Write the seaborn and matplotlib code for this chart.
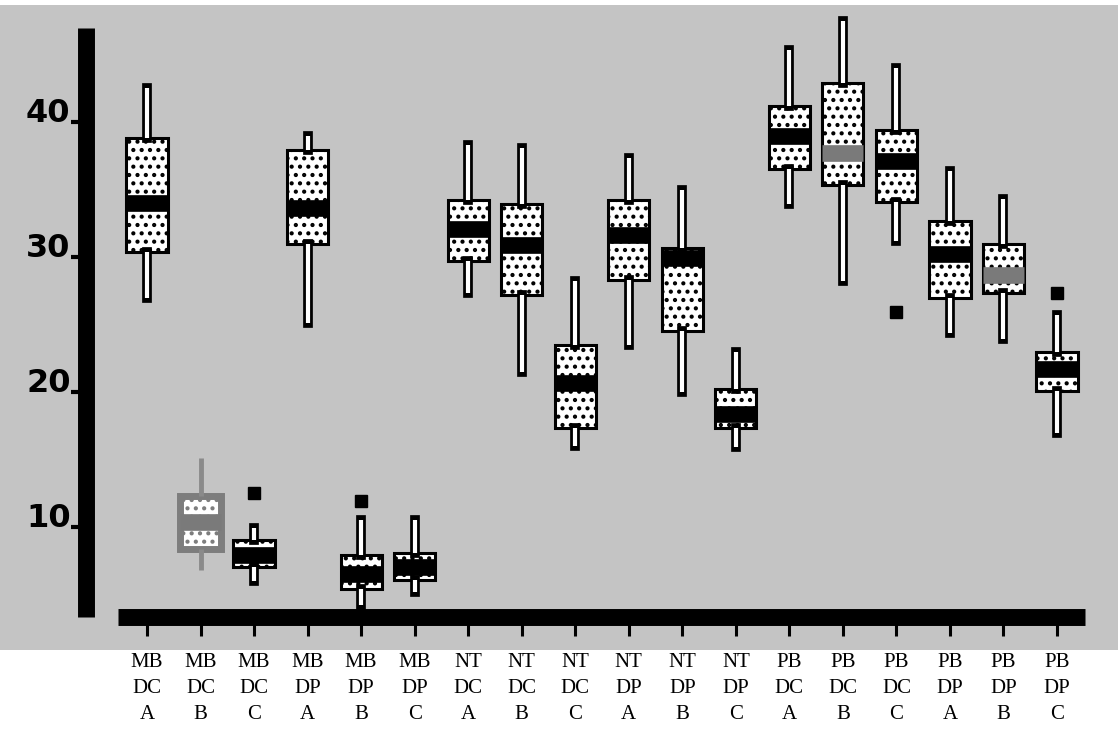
import matplotlib
matplotlib.use('Agg')
import matplotlib.pyplot as plt
import matplotlib.patheffects as pe
from matplotlib.patches import Rectangle
import numpy as np
import pandas as pd
import seaborn as sns

# Box statistics (lower whisker, Q1, median, Q3, upper whisker)
groups = ['MB\nDC\nA', 'MB\nDC\nB', 'MB\nDC\nC', 'MB\nDP\nA', 'MB\nDP\nB', 'MB\nDP\nC',
          'NT\nDC\nA', 'NT\nDC\nB', 'NT\nDC\nC', 'NT\nDP\nA', 'NT\nDP\nB', 'NT\nDP\nC',
          'PB\nDC\nA', 'PB\nDC\nB', 'PB\nDC\nC', 'PB\nDP\nA', 'PB\nDP\nB', 'PB\nDP\nC']
whisker_low = [27.0, 6.8, 6.0, 25.1, 4.2, 5.2, 27.3, 21.5, 16.0, 23.5, 20.0, 15.9,
               33.9, 28.2, 31.2, 24.4, 23.9, 17.0]
q1 = [30.4, 8.4, 7.0, 31.0, 5.4, 6.1, 29.7, 27.2, 17.3, 28.3, 24.5, 17.3,
      36.5, 35.3, 34.1, 27.0, 27.3, 20.1]
median = [34.0, 10.4, 7.9, 33.6, 6.5, 7.0, 32.1, 30.9, 20.7, 31.6, 29.9, 18.4,
          39.0, 37.7, 37.1, 30.2, 28.7, 21.7]
q3 = [38.8, 12.3, 9.0, 37.9, 7.9, 8.1, 34.2, 33.9, 23.5, 34.2, 30.7, 20.2,
      41.2, 42.9, 39.4, 32.7, 31.0, 23.0]
whisker_high = [42.5, 15.1, 9.9, 39.0, 10.5, 10.5, 38.3, 38.1, 28.2, 37.3, 35.0, 23.0,
                45.3, 47.5, 44.0, 36.4, 34.3, 25.7]
outliers = {2: 12.5, 4: 11.9, 14: 25.9, 17: 27.3}
y_ticks = [10, 20, 30, 40]

# Build samples whose quartiles / whiskers reproduce the read statistics
rows = []
for i, g in enumerate(groups):
    lo, a, m, b, hi = whisker_low[i], q1[i], median[i], q3[i], whisker_high[i]
    if i in outliers:
        out = outliers[i]
        if out > hi:
            vals = [lo, lo, a, a, m, b, b, hi, out]
        else:
            vals = [out, lo, a, a, m, b, b, hi, hi]
    else:
        vals = [lo, a, m, b, hi]
    rows += [(g, v) for v in vals]
df = pd.DataFrame(rows, columns=['group', 'value'])

sns.set_theme(style='ticks')
plt.rcParams['hatch.linewidth'] = 1.8

W, H = 1118, 729
fig = plt.figure(figsize=(W / 100, H / 100), dpi=100)
fig.patch.set_facecolor('white')
# scanned grey backdrop behind the plot
fig.patches.append(Rectangle((0, 1 - 650 / H), 1, 645 / H, transform=fig.transFigure,
                             facecolor='#c4c4c4', edgecolor='none', zorder=-10))

ax = fig.add_axes([86.5 / W, 1 - 616.5 / H, (1110 - 86.5) / W, (616.5 - 12) / H])
ax.set_facecolor('none')
ax.set_zorder(5)

sns.boxplot(data=df, x='group', y='value', order=groups, whis=1.4, width=0.77,
            showcaps=False, color='white', linecolor='black', linewidth=2.2,
            fliersize=8,
            flierprops=dict(marker='s', markerfacecolor='black', markeredgecolor='black'),
            medianprops=dict(linewidth=12, solid_capstyle='butt'),
            ax=ax)

gray_box = 1
gray_medians = [1, 13, 16]

for i, p in enumerate(ax.patches):
    p.set_facecolor('white')
    p.set_edgecolor('black')
    p.set_hatch('..')
    if i == gray_box:
        p.set_edgecolor('#7d7d7d')
        p.set_linewidth(5)

for line in ax.lines:
    xd = np.asarray(line.get_xdata(), float)
    if xd.size == 0:
        continue
    idx = int(round(xd.mean()))
    if line.get_linestyle() == 'None':
        continue  # fliers
    if np.ptp(xd) == 0:
        # whisker: white bar with black outline
        if idx == gray_box:
            line.set_color('#8a8a8a')
            line.set_linewidth(3.5)
        else:
            line.set_color('white')
            line.set_linewidth(3.0)
            line.set_solid_capstyle('butt')
            line.set_path_effects([pe.Stroke(linewidth=7, foreground='black',
                                             capstyle='projecting'), pe.Normal()])
    else:
        line.set_color('#7a7a7a' if idx in gray_medians else 'black')
        line.set_linewidth(12)
        line.set_solid_capstyle('butt')

ax.set_xlim(-1.13, 17.99)
ax.set_ylim(3.37, 48.15)
sns.despine(ax=ax)
for s in ('left', 'bottom'):
    ax.spines[s].set_linewidth(12.2)
    ax.spines[s].set_color('black')
    ax.spines[s].set_capstyle('butt')
ax.spines['left'].set_bounds(3.37, 47.0)
ax.spines['bottom'].set_bounds(-0.54, 17.52)

ax.set_yticks(y_ticks)
ax.set_yticklabels([str(t) for t in y_ticks])
ax.tick_params(axis='x', length=14, width=2.2, pad=12, color='black')
ax.tick_params(axis='y', length=10.5, width=3, pad=1, color='black')
ax.set_xlabel('')
ax.set_ylabel('')

for lab in ax.get_xticklabels():
    lab.set_fontfamily(['Liberation Serif', 'DejaVu Serif'])
    lab.set_fontsize(15)
    lab.set_linespacing(1.5)
    lab.set_color('black')
for lab in ax.get_yticklabels():
    lab.set_fontfamily(['Liberation Sans Narrow', 'DejaVu Sans'])
    lab.set_fontweight('bold')
    lab.set_fontsize(23)
    lab.set_verticalalignment('baseline')
    lab.set_color('black')

fig.savefig('out.png', dpi=100)
